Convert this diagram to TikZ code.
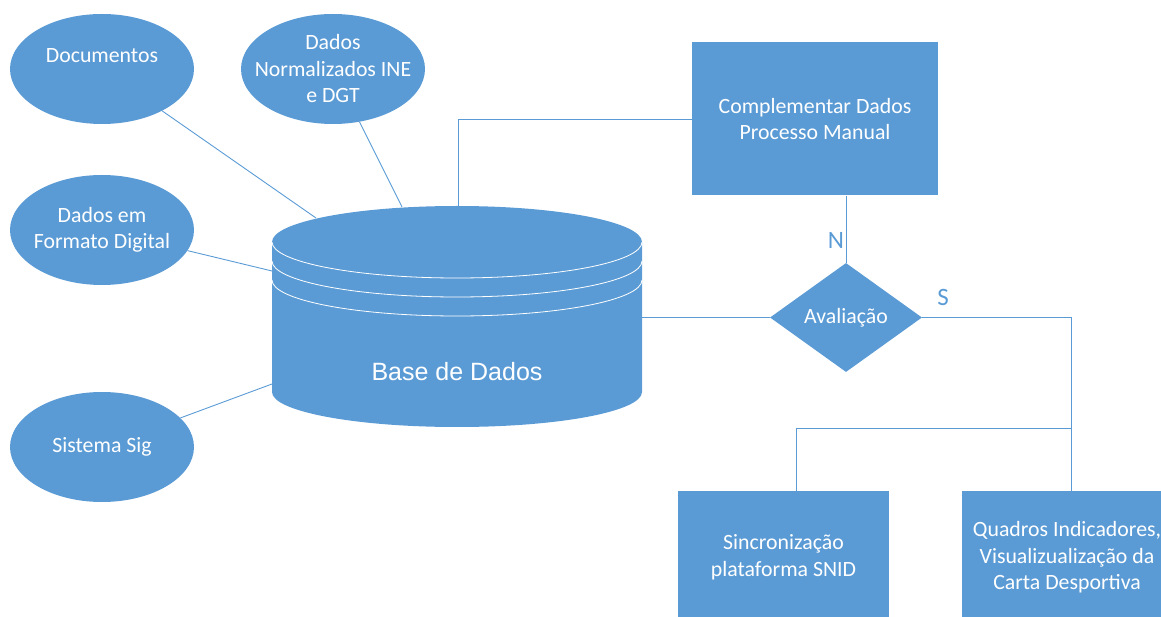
\documentclass[tikz,border=0pt]{standalone}
\usepackage{fontspec}
\setmainfont{Carlito}
\newfontfamily\dbfont{Liberation Sans}
\usepackage{tikz}
\usetikzlibrary{arrows,calc,positioning,shapes.geometric}
\definecolor{dbblue}{HTML}{5B9BD5}
\tikzset{
	blob/.style={ellipse,fill=dbblue,minimum width=184pt,minimum height=110pt,inner sep=0pt},
	box/.style={rectangle,fill=dbblue,text=white,align=center,inner sep=0pt},
	link/.style={draw=dbblue,line width=0.9pt},
	wtext/.style={text=white,align=center},
	yesno/.style={text=dbblue,font=\fontsize{25}{30}\selectfont}
}

\begin{document}
\begin{tikzpicture}[x=1pt,y=1pt,font=\fontsize{21.8}{26.5}\selectfont]
		\clip (0,0) rectangle (1161,616);
		\fill[dbblue] (272,374) -- (272,224) arc[start angle=180,end angle=360,x radius=185pt,y radius=35pt] -- (642,374) arc[start angle=0,end angle=180,x radius=185pt,y radius=36pt] -- cycle;
		\draw[white,line width=0.8pt] (272,374) arc[start angle=180,end angle=360,x radius=185pt,y radius=36pt];
		\draw[white,line width=0.8pt] (272,355) arc[start angle=180,end angle=360,x radius=185pt,y radius=36pt];
		\draw[white,line width=0.8pt] (272,336) arc[start angle=180,end angle=360,x radius=185pt,y radius=36pt];
		\node[white,font=\dbfont\fontsize{25}{30}\selectfont] (db) at (457,244) {Base de Dados};
		\coordinate (dbA) at (316,398);
		\coordinate (dbB) at (402,409);
		\coordinate (dbC) at (458,410);
		\coordinate (dbD) at (272,345);
		\coordinate (dbE) at (272,232);
		\coordinate (dbF) at (642,298.5);
		\node[blob,label={[wtext,yshift=13pt]center:Documentos}] (doc) at (102,547) {};
		\node[blob,label={[wtext]center:Dados\\Normalizados INE\\e DGT}] (ine) at (333,547) {};
		\node[blob,label={[wtext]center:Dados em\\Formato Digital}] (fmt) at (102,386) {};
		\node[blob,label={[wtext]center:Sistema Sig}] (sig) at (102,169) {};
		\node[box,minimum width=246pt,minimum height=153pt] (comp) at (815,497) {Complementar Dados\\Processo Manual};
		\node[diamond,fill=dbblue,text=white,inner sep=0pt,minimum width=152pt,minimum height=109pt] (aval) at (846,298.5) {Avalia\c{c}\~ao};
		\node[box,minimum width=211pt,minimum height=133pt] (sinc) at (783.5,58.5) {Sincroniza\c{c}\~ao\\plataforma SNID};
		\node[box,minimum width=210pt,minimum height=133pt] (quad) at (1067,58.5) {Quadros Indicadores,\\Visualizualiza\c{c}\~ao da\\Carta Desportiva};
		\coordinate (split) at (1071,188);
		\node[yesno] (n) at (836,376) {N};
		\node[yesno] (s) at (943,319) {S};
		\draw[link] (doc) to (dbA);
		\draw[link] (ine) to (dbB);
		\draw[link] (fmt) to (dbD);
		\draw[link] (sig) to (dbE);
		\draw[link] (comp.west) -| (dbC);
		\draw[link] (aval.north |- comp.south) to (aval.north);
		\draw[link] (aval.west) to (dbF);
		\draw[link] (aval.east) -| (split) to ([xshift=4pt]quad.north);
		\draw[link] (split) -| ([xshift=12.5pt]sinc.north);
	\end{tikzpicture}
\end{document}
